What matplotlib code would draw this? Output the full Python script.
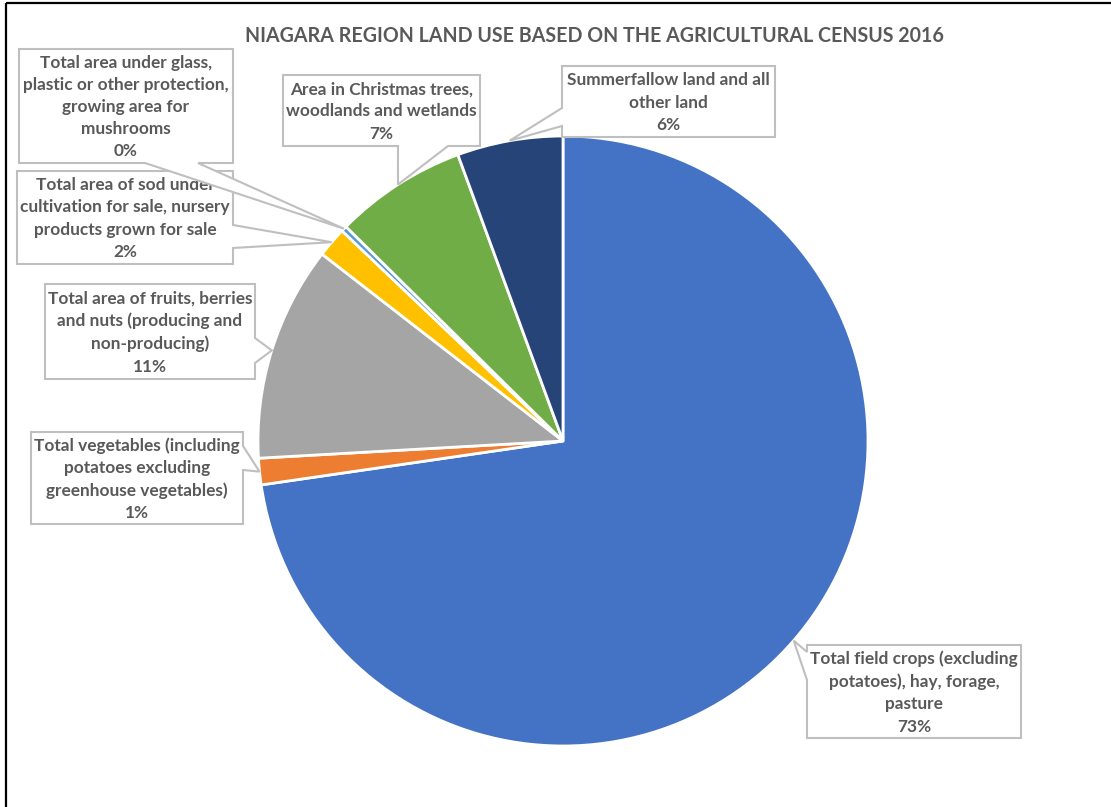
import matplotlib.pyplot as plt
from matplotlib.patches import Polygon, Rectangle
import numpy as np

# Land use categories (2016 agricultural census, Niagara region)
categories = [
    "Total field crops (excluding\npotatoes), hay, forage,\npasture",
    "Total vegetables (including\npotatoes excluding\ngreenhouse vegetables)",
    "Total area of fruits, berries\nand nuts (producing and\nnon-producing)",
    "Total area of sod under\ncultivation for sale, nursery\nproducts grown for sale",
    "Total area under glass,\nplastic or other protection,\ngrowing area for\nmushrooms",
    "Area in Christmas trees,\nwoodlands and wetlands",
    "Summerfallow land and all\nother land",
]
shares = [72.7, 1.4, 11.4, 1.6, 0.3, 7.0, 5.6]
colors = ["#4472C4", "#ED7D31", "#A5A5A5", "#FFC000", "#5B9BD5", "#70AD47", "#264478"]

W, H = 1111, 807
text_color = "#595959"
box_edge = "#BFBFBF"
plt.rcParams['font.family'] = ['Lato', 'DejaVu Sans']

fig = plt.figure(figsize=(W / 100, H / 100), dpi=100)
ax = fig.add_axes([0, 0, 1, 1])
ax.set_xlim(0, W)
ax.set_ylim(H, 0)
ax.set_aspect('equal')
ax.axis('off')

# outer chart frame (only left/top edges fall inside the image)
ax.add_patch(Rectangle((6, 3), W + 50, H + 50, fill=False, ec='black', lw=1.6, zorder=1))

cx, cy, r = 563, 441, 305
# y axis is inverted, so counter-clockwise in data runs clockwise on screen
wedges, _ = ax.pie(shares, colors=colors, startangle=-90, counterclock=True,
                   center=(cx, cy), radius=r,
                   wedgeprops=dict(edgecolor='white', linewidth=2))
ax.set_xlim(0, W)
ax.set_ylim(H, 0)

ax.text(594, 36, "NIAGARA REGION LAND USE BASED ON THE AGRICULTURAL CENSUS 2016",
        ha='center', va='center', fontsize=14.1, fontweight='bold', color=text_color)

# callout boxes: (x0, y0, x1, y1), side of the pointer, pointer base span
callouts = [
    ((807, 645, 1021, 738), 'left', (652, 680)),
    ((31, 432, 243, 524), 'right', (446, 470)),
    ((45, 284, 255, 379), 'right', (338, 363)),
    ((17, 171, 233, 264), 'right', (225, 248)),
    ((19, 49, 233, 163), 'bottom', (145, 198)),
    ((283, 75, 480, 146), 'bottom', (398, 448)),
    ((562, 66, 775, 137), 'left', (108, 126)),
]


def callout_shape(box, side, base, tip):
    x0, y0, x1, y1 = box
    a, b = base
    pts = [(x0, y0), (x1, y0)]
    if side == 'right':
        pts += [(x1, a), tip, (x1, b)]
    pts.append((x1, y1))
    if side == 'bottom':
        pts += [(b, y1), tip, (a, y1)]
    pts.append((x0, y1))
    if side == 'left':
        pts += [(x0, b), tip, (x0, a)]
    return pts


for i, (w, (box, side, base)) in enumerate(zip(wedges, callouts)):
    mid = np.deg2rad((w.theta1 + w.theta2) / 2)
    tip = (cx + r * np.cos(mid), cy + r * np.sin(mid))
    z = 10 + 2 * i
    ax.add_patch(Polygon(callout_shape(box, side, base, tip), closed=True,
                         fc='white', ec=box_edge, lw=1.5, zorder=z))
    x0, y0, x1, y1 = box
    ax.text((x0 + x1) / 2, (y0 + y1) / 2 + 1, f"{categories[i]}\n{shares[i]:.0f}%",
            ha='center', va='center', fontsize=12.4, fontweight='bold',
            color=text_color, linespacing=1.48, zorder=z + 1)

fig.savefig("out.png", dpi=100)
